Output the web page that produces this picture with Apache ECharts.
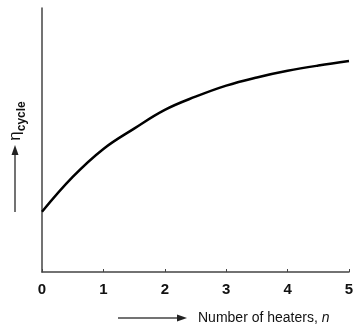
<!DOCTYPE html>
<html><head><meta charset="utf-8">
<script src="https://cdn.jsdelivr.net/npm/echarts@6/dist/echarts.min.js"></script>
<style>html,body{margin:0;padding:0;background:#fff}#c{width:362px;height:326px}</style>
</head><body><div id="c"></div>
<script>
const heaters = [0, 0.5, 1, 1.5, 2, 2.5, 3, 3.5, 4, 4.5, 5];
const efficiency = [22.8, 36.0, 46.6, 54.3, 61.4, 66.4, 70.6, 73.7, 76.2, 78.2, 79.9];
const xTicks = [0, 1, 2, 3, 4, 5];
const xTitle = 'Number of heaters, ';
const xVar = 'n';
const yTitle = 'η';
const ySub = 'cycle';

const chart = echarts.init(document.getElementById('c'));
chart.setOption({
  animation: false,
  backgroundColor: '#fff',
  grid: {left: 42, right: 13, top: 8, bottom: 54},
  xAxis: {
    type: 'value', min: 0, max: 5, interval: 1,
    axisLine: {lineStyle: {color: '#444', width: 1.5}},
    axisTick: {inside: true, length: 3, lineStyle: {color: '#444'}},
    axisLabel: {color: '#111', fontSize: 15, fontFamily: 'Liberation Sans', fontWeight: 'bold', margin: 10,
      formatter: v => xTicks.includes(v) ? String(v) : ''},
    splitLine: {show: false}
  },
  yAxis: {
    type: 'value', min: 0, max: 100,
    axisLine: {show: true, lineStyle: {color: '#444', width: 1.5}},
    axisTick: {show: false}, axisLabel: {show: false}, splitLine: {show: false}
  },
  series: [{
    type: 'line', smooth: 0.4, symbol: 'none',
    lineStyle: {color: '#000', width: 2.5},
    data: heaters.map((x, i) => [x, efficiency[i]])
  }],
  graphic: [
    {type: 'text', x: 15, y: 121, rotation: Math.PI / 2,
      style: {text: '{a|' + yTitle + '}{b|' + ySub + '}', align: 'center', verticalAlign: 'middle',
        rich: {a: {fontSize: 17, fontFamily: 'Liberation Sans', fill: '#111', verticalAlign: 'bottom'},
               b: {fontSize: 12, fontFamily: 'Liberation Sans', fill: '#111', fontWeight: 'bold', verticalAlign: 'bottom', padding: [0, 0, -4, 0]}}}},
    {type: 'line', shape: {x1: 15, y1: 212, x2: 15, y2: 152}, style: {stroke: '#444', lineWidth: 1.5}},
    {type: 'polygon', shape: {points: [[15, 145], [11.5, 155], [18.5, 155]]}, style: {fill: '#222'}},
    {type: 'line', shape: {x1: 118, y1: 318, x2: 180, y2: 318}, style: {stroke: '#444', lineWidth: 1.5}},
    {type: 'polygon', shape: {points: [[187, 318], [177, 314.5], [177, 321.5]]}, style: {fill: '#222'}},
    {type: 'text', x: 198, y: 318,
      style: {text: '{a|' + xTitle + '}{b|' + xVar + '}', align: 'left', verticalAlign: 'middle',
        rich: {a: {fontSize: 14, fontFamily: 'Liberation Sans', fill: '#111'},
               b: {fontSize: 14, fontFamily: 'Liberation Sans', fill: '#111', fontStyle: 'italic'}}}}
  ]
});
</script></body></html>
